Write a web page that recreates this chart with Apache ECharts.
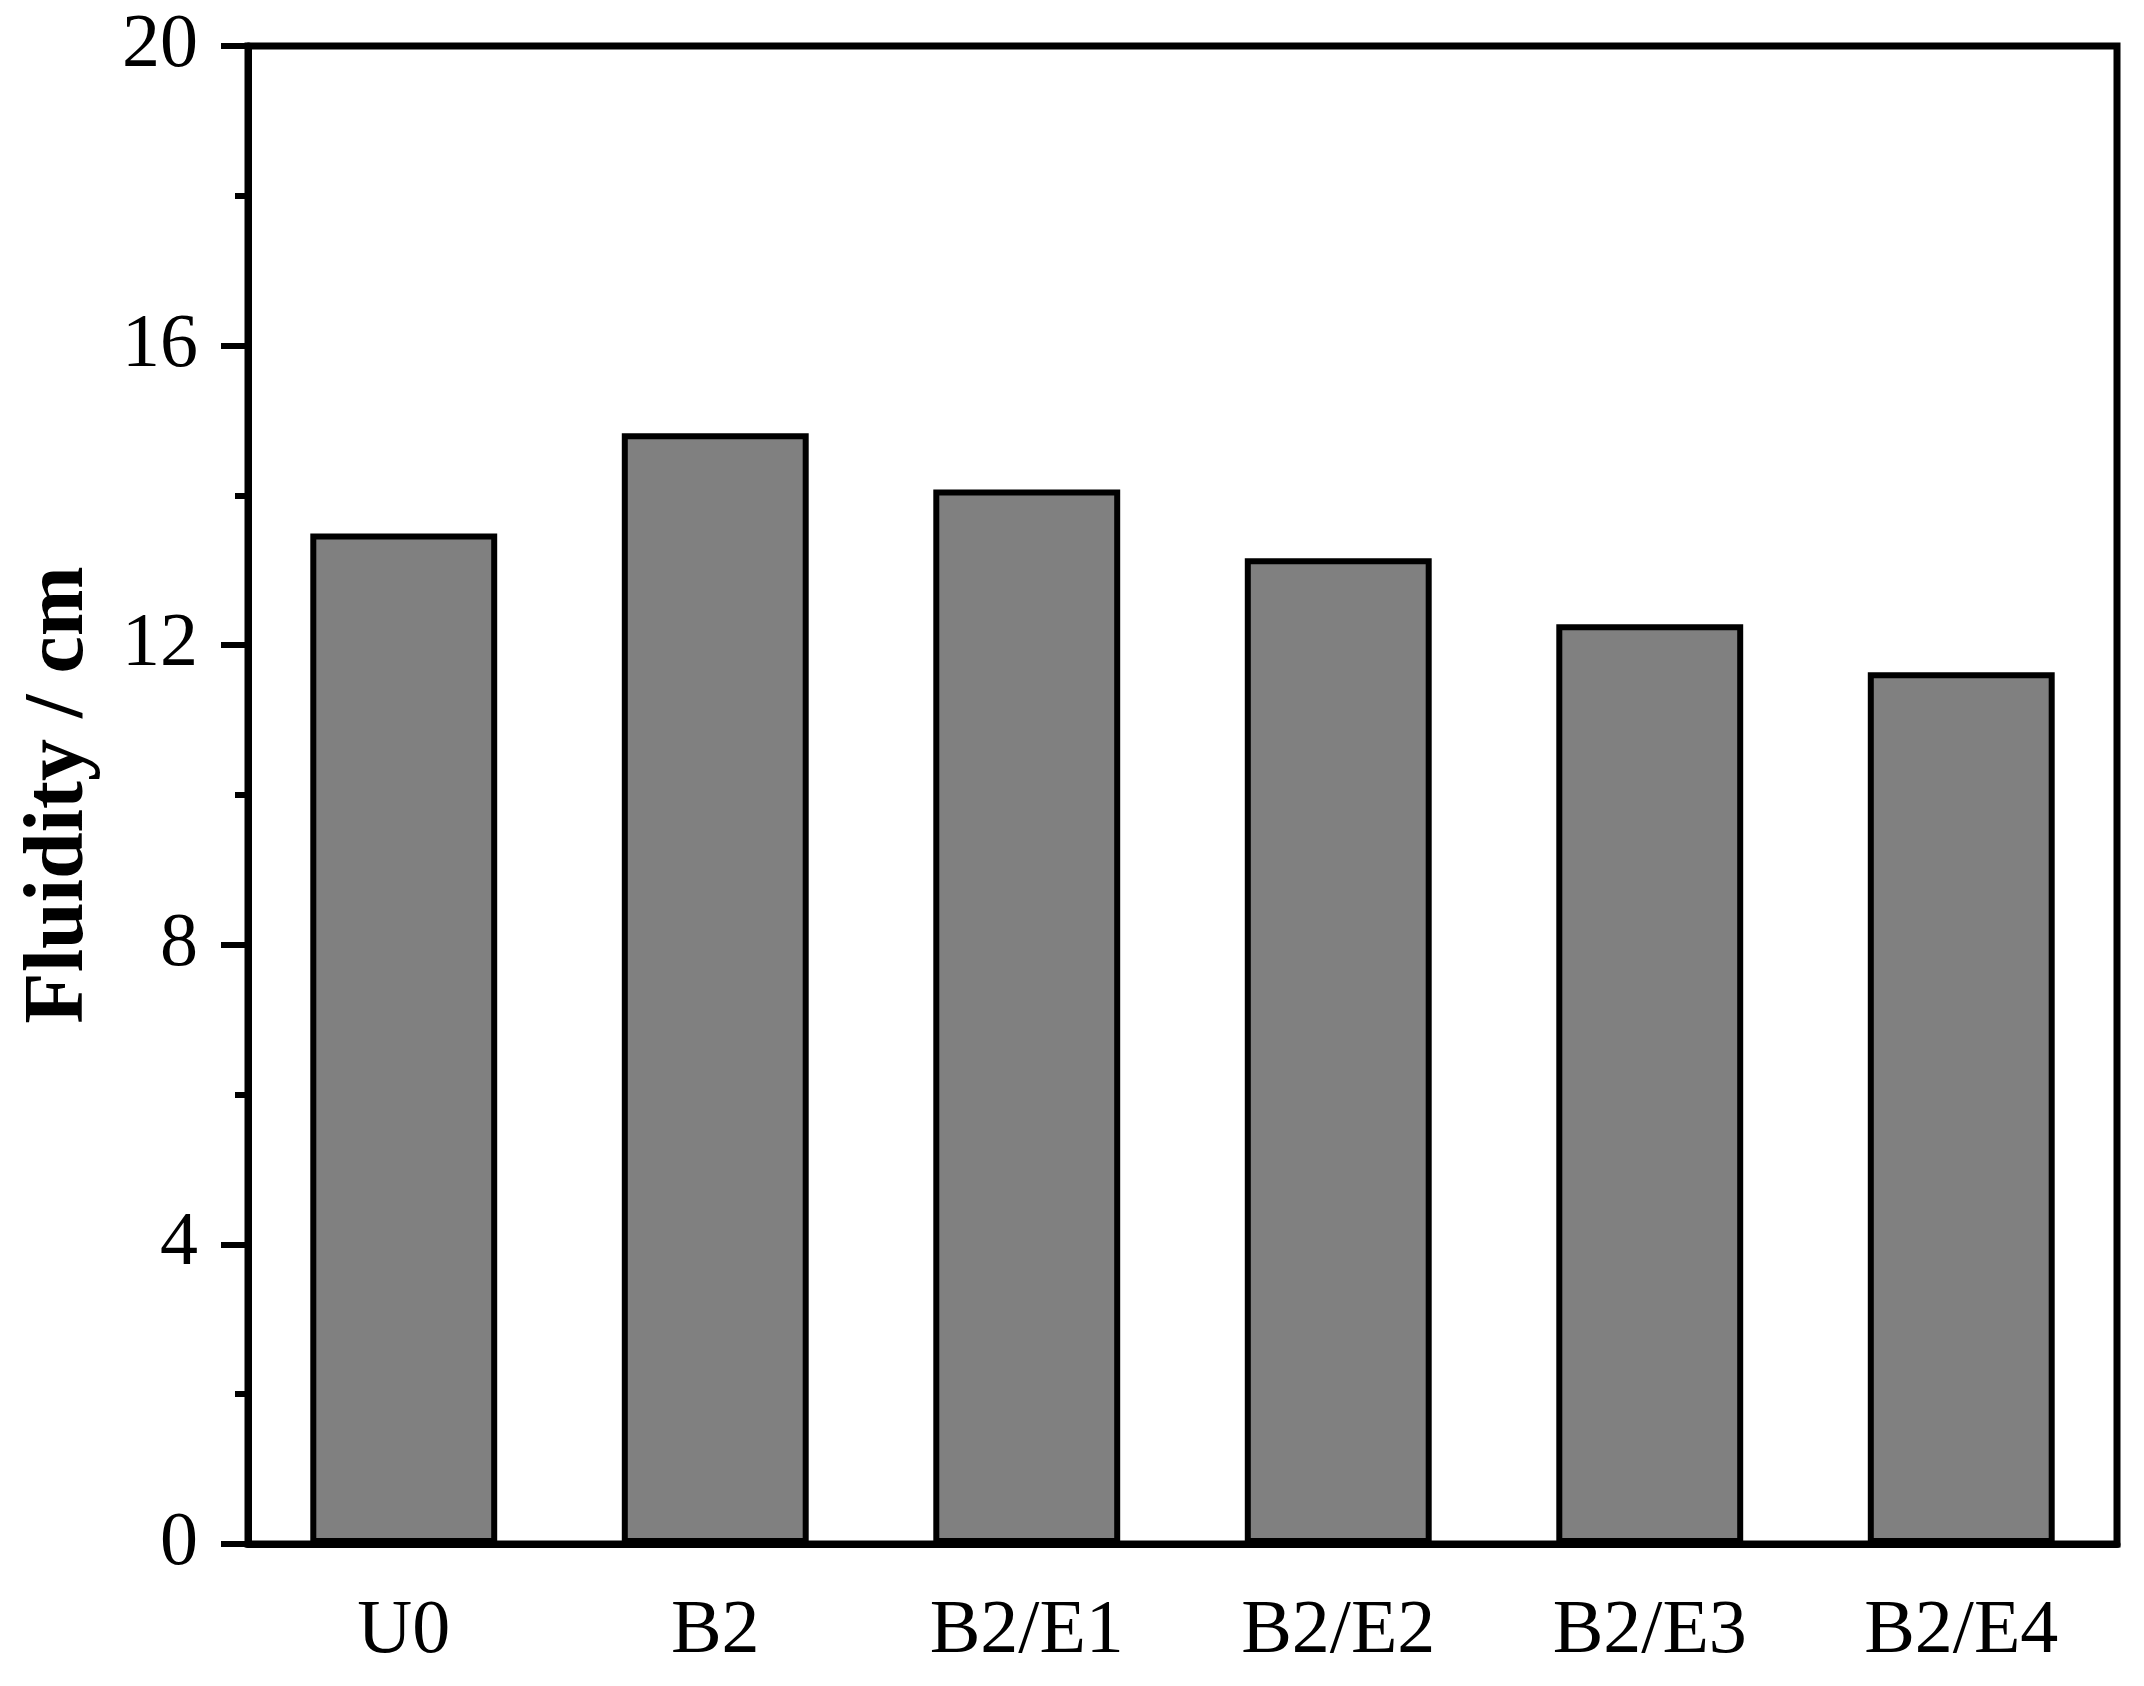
<!DOCTYPE html>
<html>
<head>
<meta charset="utf-8">
<script src="https://cdn.jsdelivr.net/npm/echarts@6/dist/echarts.min.js"></script>
<style>
html, body { margin: 0; padding: 0; background: #fff; }
#main { width: 2144px; height: 1686px; }
</style>
</head>
<body>
<div id="main"></div>
<script>
// 样品名称
var categories = ['U0', 'B2', 'B2/E1', 'B2/E2', 'B2/E3', 'B2/E4'];
// 流动度 (cm)
var fluidity = [13.49, 14.83, 14.08, 13.16, 12.28, 11.64];
var yTicks = [0, 4, 8, 12, 16, 20];

var dom = document.getElementById('main');
var myChart = echarts.init(dom);
var font = '"Liberation Serif", "Times New Roman", serif';

var option = {
    animation: false,
    backgroundColor: '#fff',
    grid: {
        left: 248,
        right: 27,
        top: 46,
        bottom: 142,
        outerBoundsMode: 'none',
        containLabel: false,
        show: true,
        borderColor: '#000',
        borderWidth: 7
    },
    xAxis: {
        type: 'category',
        data: categories,
        axisLine: { lineStyle: { color: '#000', width: 7 } },
        axisTick: { alignWithLabel: true, length: 27, lineStyle: { color: '#000', width: 6 } },
        axisLabel: { color: '#000', fontFamily: font, fontSize: 76, margin: 50 },
        splitLine: { show: false }
    },
    yAxis: {
        type: 'value',
        min: yTicks[0],
        max: yTicks[yTicks.length - 1],
        interval: 4,
        name: 'Fluidity / cm',
        nameLocation: 'middle',
        nameGap: 146,
        nameTextStyle: { color: '#000', fontFamily: font, fontSize: 84, fontWeight: 'bold' },
        axisLine: { show: true, lineStyle: { color: '#000', width: 7 } },
        axisTick: { show: true, length: 27, lineStyle: { color: '#000', width: 6 } },
        minorTick: { show: true, splitNumber: 2, length: 13, lineStyle: { color: '#000', width: 6 } },
        axisLabel: { color: '#000', fontFamily: font, fontSize: 76, margin: 50 },
        splitLine: { show: false }
    },
    series: [{
        type: 'bar',
        data: fluidity,
        barWidth: '60%',
        itemStyle: { color: '#808080', borderColor: '#000', borderWidth: 6 }
    }]
};

myChart.setOption(option, true);
</script>
</body>
</html>
